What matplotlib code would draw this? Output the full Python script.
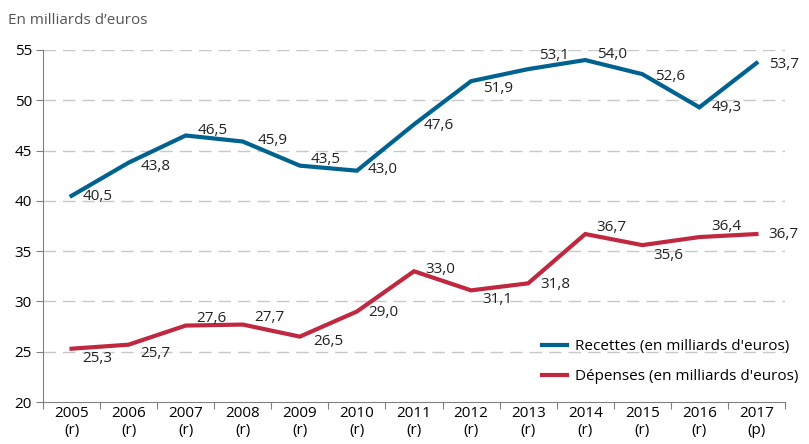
import matplotlib.pyplot as plt
import numpy as np

plt.rcParams['font.family'] = ['Open Sans', 'DejaVu Sans']

years = ["2005", "2006", "2007", "2008", "2009", "2010", "2011",
         "2012", "2013", "2014", "2015", "2016", "2017"]
status = ["(r)"] * 12 + ["(p)"]
recettes = [40.5, 43.8, 46.5, 45.9, 43.5, 43.0, 47.6, 51.9, 53.1, 54.0, 52.6, 49.3, 53.7]
depenses = [25.3, 25.7, 27.6, 27.7, 26.5, 29.0, 33.0, 31.1, 31.8, 36.7, 35.6, 36.4, 36.7]

# label offsets (pixels, right / down) picked to sit like the original
off_rec = [(11, 0), (12, 3), (12, -6), (15, -2), (11, -7), (11, -2), (10, 0),
           (12, 6), (11, -15), (12, -7), (13, 1), (12, -1), (13, 0)]
off_dep = [(11, 9), (12, 8), (11, -8), (11, -8), (13, 4), (11, 0), (11, -3),
           (11, 8), (12, 0), (11, -8), (11, 9), (12, -12), (12, -1)]

blue = "#00628f"
red = "#c0283f"

fig = plt.figure(figsize=(8.09, 4.44), dpi=100)
ax = fig.add_axes([43 / 809, 1 - 402 / 444, (785 - 43) / 809, (402 - 50) / 444])

x = np.arange(len(years))
ax.plot(x, recettes, color=blue, lw=3, solid_joinstyle='miter',
        label="Recettes (en milliards d'euros)", zorder=3)
ax.plot(x, depenses, color=red, lw=3, solid_joinstyle='miter',
        label="Dépenses (en milliards d'euros)", zorder=3)

for vals, offs in [(recettes, off_rec), (depenses, off_dep)]:
    for xi, v, (dx, dy) in zip(x, vals, offs):
        ax.annotate(f"{v:.1f}".replace(".", ","), (xi, v), xytext=(dx, -dy - 1),
                    textcoords='offset pixels', ha='left', va='center',
                    fontsize=11, color='#222222', zorder=4)

ax.set_xlim(-0.5, 12.5)
ax.set_ylim(20, 55)
ax.set_yticks(range(20, 56, 5))
ax.set_xticks(np.arange(-0.5, 13, 1))
ax.set_xticklabels([])
ax.set_xticks(x, [f"{y}\n{s}" for y, s in zip(years, status)], minor=True)
ax.tick_params(axis='x', which='minor', length=0, labelsize=11, pad=3)
ax.tick_params(axis='x', which='major', length=5, color='#808080')
ax.tick_params(axis='y', length=5, color='#808080', labelsize=11, pad=3)

for yv in range(25, 56, 5):
    ax.axhline(yv, color='#c8c8c8', lw=1, dashes=(9, 5), zorder=1)

for s in ['top', 'right']:
    ax.spines[s].set_visible(False)
for s in ['left', 'bottom']:
    ax.spines[s].set_color('#808080')

ax.legend(loc='center left', bbox_to_anchor=(542 / 809, 1 - 361.5 / 444),
          bbox_transform=fig.transFigure, frameon=False, borderpad=0,
          borderaxespad=0, fontsize=11, handlelength=1.64,
          handletextpad=0.52, labelspacing=1.0)

fig.text(8 / 809, 1 - 20 / 444, "En milliards d’euros", fontsize=11,
         color='#555555', va='center', ha='left')

fig.savefig("out.png", dpi=100)
